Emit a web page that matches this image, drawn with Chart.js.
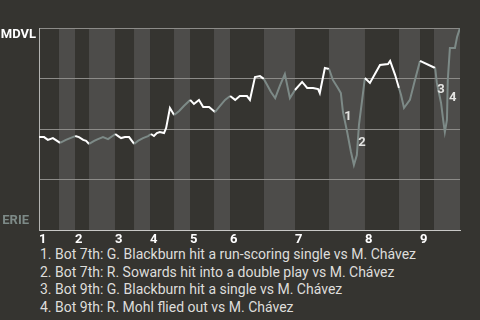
<!DOCTYPE html>
<html>
<head>
<meta charset="utf-8">
<script src="https://cdn.jsdelivr.net/npm/chart.js@4"></script>
<style>
  body { margin: 0; background: #353430; width: 480px; height: 320px; overflow: hidden; }
  #wrap { position: relative; width: 480px; height: 245px; }
  .notes { margin: 1px 0 0 40px; font: 14px Roboto, sans-serif; color: #dedddb; line-height: 17.5px; }
</style>
</head>
<body>
<div id="wrap"><canvas id="myChart" width="480" height="245"></canvas></div>
<div class="notes">
  <div>1. Bot 7th: G. Blackburn hit a run-scoring single vs M. Chávez</div>
  <div>2. Bot 7th: R. Sowards hit into a double play vs M. Chávez</div>
  <div>3. Bot 9th: G. Blackburn hit a single vs M. Chávez</div>
  <div>4. Bot 9th: R. Mohl flied out vs M. Chávez</div>
</div>
<script>
// game progress (0-100) and MDVL win probability (%)
const progress = [0, 1.2, 2.1, 3.3, 4.3, 5.0, 6.4, 7.4, 8.6, 9.5, 10.5, 11.2, 11.9,
  13.1, 14.0, 15.2, 16.4, 17.8, 18.1, 18.8, 19.5, 20.4, 21.4, 22.6, 23.5, 24.7, 25.9,
  26.6, 27.3, 28.0, 28.7, 29.7, 30.2, 31.1, 32.1, 33.3, 34.4, 35.9, 36.8, 38.0, 39.0,
  40.4, 41.8, 43.0, 44.2, 45.4, 46.6, 47.7, 49.4, 50.1, 51.3, 52.5, 53.4, 54.2, 55.1,
  56.1, 57.2, 58.4, 59.6, 60.8, 62.5, 63.7, 65.1, 66.3, 66.7, 67.9, 68.9, 69.8, 71.0,
  71.7, 72.2, 73.2, 74.1, 74.8, 75.5, 76.0, 76.7, 77.4, 78.6, 81.0, 82.9, 83.4, 84.6,
  85.5, 86.0, 86.7, 88.1, 89.3, 90.5, 94.1, 94.5, 95.5, 96.0, 96.4, 96.9, 97.1, 97.6,
  98.8, 99.3, 100];
const winProb = [46.0, 46.0, 44.6, 45.5, 44.1, 43.1, 44.6, 45.5, 46.5, 46.0, 44.6, 44.1, 42.6,
  44.1, 45.0, 46.0, 45.0, 47.0, 47.5, 46.5, 45.5, 46.0, 46.0, 42.6, 44.1, 45.5, 46.5,
  47.5, 46.5, 48.0, 48.5, 48.0, 50.5, 60.4, 56.9, 58.9, 61.4, 64.4, 62.4, 64.4, 60.9,
  60.9, 58.4, 61.4, 64.4, 66.3, 64.4, 66.3, 66.3, 64.4, 75.7, 76.2, 74.8, 71.8, 68.3,
  65.3, 71.3, 77.2, 65.3, 69.3, 73.3, 70.3, 70.3, 69.8, 67.8, 80.2, 79.7, 74.3, 70.3,
  67.8, 58.4, 48.5, 38.6, 32.2, 37.1, 52.0, 63.4, 75.2, 72.8, 81.7, 82.2, 83.7, 76.7,
  70.3, 66.8, 60.4, 64.4, 74.3, 83.7, 80.2, 72.8, 62.9, 54.5, 48.5, 54.5, 74.3, 90.1,
  90.1, 95.5, 100];

// start of each half inning (top 1, bot 1, top 2, ...)
const halfStarts = [0, 4.75, 8.55, 11.88, 18.05, 22.57, 26.37, 32.07, 35.87, 41.57,
  45.37, 53.44, 60.81, 68.88, 77.43, 85.51, 90.5, 93.82, 100];
const inningLabels = ['1', '2', '3', '4', '5', '6', '7', '8', '9'];

// numbered plays
const noteLabels = ['1', '2', '3', '4'];
const noteX = [73.4, 76.7, 95.5, 98.3];
const noteY = [55.9, 43.1, 69.3, 65.3];

const topColor = '#ffffff';
const botColor = '#7d8a87';

function halfIndex(x) {
  for (let i = halfStarts.length - 2; i >= 0; i--) {
    if (x >= halfStarts[i]) return i;
  }
  return 0;
}

const backdrop = {
  id: 'backdrop',
  beforeDraw(chart) {
    const { ctx, chartArea, scales } = chart;
    ctx.save();
    ctx.fillStyle = '#4d4c4a';
    for (let i = 1; i < halfStarts.length - 1; i += 2) {
      const x0 = scales.x.getPixelForValue(halfStarts[i]);
      const x1 = scales.x.getPixelForValue(halfStarts[i + 1]);
      ctx.fillRect(x0, chartArea.top, x1 - x0, chartArea.bottom - chartArea.top);
    }
    ctx.restore();
  },
  afterDatasetsDraw(chart) {
    const { ctx, chartArea, scales } = chart;
    ctx.save();
    ctx.font = 'bold 13px Roboto, sans-serif';
    ctx.textAlign = 'center';
    ctx.textBaseline = 'middle';
    ctx.fillStyle = '#e4e4e2';
    noteLabels.forEach((t, i) => {
      ctx.fillText(t, scales.x.getPixelForValue(noteX[i]), scales.y.getPixelForValue(noteY[i]));
    });
    // team names
    ctx.textAlign = 'right';
    ctx.fillStyle = '#ffffff';
    ctx.fillText('MDVL', chartArea.left - 3, chartArea.top + 7);
    ctx.fillStyle = botColor;
    ctx.fillText('ERIE', chartArea.left - 10, chartArea.bottom - 9);
    ctx.restore();
  }
};

const myChart = new Chart(document.getElementById('myChart'), {
  type: 'line',
  data: {
    datasets: [{
      data: progress.map((x, i) => ({ x: x, y: winProb[i] })),
      borderColor: topColor,
      borderWidth: 2,
      pointRadius: 0,
      tension: 0,
      segment: {
        borderColor: c => halfIndex((c.p0.parsed.x + c.p1.parsed.x) / 2) % 2 ? botColor : topColor
      }
    }]
  },
  options: {
    responsive: false,
    animation: false,
    layout: { padding: { left: 39, top: 28, right: 20, bottom: 0 } },
    plugins: { legend: { display: false }, tooltip: { enabled: false } },
    scales: {
      x: {
        type: 'linear',
        min: 0,
        max: 100,
        grid: { display: false, drawTicks: false },
        border: { color: '#c8c8c6', width: 1 },
        afterBuildTicks: s => { s.ticks = halfStarts.filter((v, i) => i % 2 === 0 && i < 18).map(v => ({ value: v })); },
        afterFit: s => { s.height = 15; },
        ticks: {
          align: 'start',
          padding: 2,
          autoSkip: false,
          maxRotation: 0,
          color: '#ffffff',
          font: { family: 'Roboto', size: 13, weight: 'bold' },
          callback: (v, i) => inningLabels[i]
        }
      },
      y: {
        min: 0,
        max: 100,
        ticks: { display: false, stepSize: 25 },
        grid: { color: '#8c8b88', drawTicks: false },
        border: { color: '#b4b4b2', width: 1 }
      }
    }
  },
  plugins: [backdrop]
});
</script>
</body>
</html>
